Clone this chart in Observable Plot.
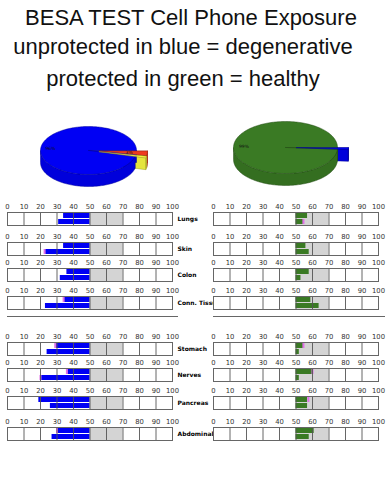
<!DOCTYPE html>
<html><head><meta charset="utf-8">
<script src="https://cdn.jsdelivr.net/npm/d3@7"></script>
<script src="https://cdn.jsdelivr.net/npm/@observablehq/plot@0.6"></script>
<style>
body{margin:0;background:#fff;}
#root{position:relative;width:386px;height:500px;overflow:hidden;font-family:"Liberation Sans",Arial,sans-serif;background:#fff;}
.title{position:absolute;width:386px;text-align:center;font-size:22px;line-height:22px;color:#111;white-space:nowrap;}
.abs{position:absolute;}
.abs svg{overflow:visible;display:block;}
.sep{position:absolute;height:0;border-top:1px solid #666;}
</style></head><body><div id="root"></div>
<script>
// ---------- data ----------
const titleLines = ["BESA TEST Cell Phone Exposure", "unprotected in blue = degenerative", "protected in green = healthy"];
const organs = ["Lungs", "Skin", "Colon", "Conn. Tissue", "Stomach", "Nerves", "Pancreas", "Abdominal"];
const unprotectedUpper = [34, 34, 36, 34, 29, 36, 19, 30];
const unprotectedLower = [31, 22.5, 32, 23, 24, 20, 26, 27];
const protectedUpper = [57, 56, 58, 59, 54.5, 60, 57, 61];
const protectedLower = [54.5, 58, 53, 64, 52, 52, 57, 58];
const unprotectedUpperMark = [null, null, null, 34, 29, 36, null, 30];
const unprotectedLowerMark = [null, 22.5, null, null, null, 20, null, null];
const protectedUpperMark = [null, null, null, null, 54.5, 60, 57.5, null];
const protectedLowerMark = [54.5, null, null, null, null, null, null, null];
const axisTicks = [0, 10, 20, 30, 40, 50, 60, 70, 80, 90, 100];
const referenceZone = [50, 70];
const barBase = 50;
const pieUnprotectedValues = [3, 1, 96];
const pieProtectedValues = [1, 99];

// ---------- styles / layout ----------
const BLUE = "#0000f4", GREEN = "#3a7a24";
const pieUnprotectedColors = ["#ee3a1e", "#ffff44", BLUE];
const pieProtectedColors = [BLUE, GREEN];
const rowBoxTops = [212, 242, 268, 296, 342, 368, 396, 427];
const root = document.getElementById("root");
function place(el, left, top) {
  const d = document.createElement("div");
  d.className = "abs"; d.style.left = left + "px"; d.style.top = top + "px";
  d.appendChild(el); root.appendChild(d);
}

titleLines.forEach((t, i) => {
  const d = document.createElement("div");
  d.className = "title"; d.textContent = t;
  d.style.top = [6.5, 36, 67.5][i] + "px";
  d.style.left = [-2, -10, -10][i] + "px";
  root.appendChild(d);
});

// ---------- pies ----------
function pieChart({values, colors, exploded, unit, depth, explode, width, height}) {
  const total = d3.sum(values);
  let acc = 0;
  const slices = values.map((v, i) => {
    const a0 = acc / total * 2 * Math.PI; acc += v;
    const a1 = acc / total * 2 * Math.PI; const mid = (a0 + a1) / 2;
    const e = exploded[i] ? explode : 0;
    return {i, v, a0, a1, mid, ox: e * Math.cos(mid), oy: e * 0.5 * Math.sin(mid), color: colors[i], exploded: exploded[i]};
  });
  const pt = (s, a, r, dz = 0) => ({x: s.ox + r * Math.cos(a), y: s.oy + 0.5 * r * Math.sin(a) + dz});
  const arc = (s, a0, a1, dz = 0) => {
    const n = Math.max(2, Math.ceil((a1 - a0) / (Math.PI / 120)));
    return d3.range(n + 1).map(k => pt(s, a0 + (a1 - a0) * k / n, 1, dz));
  };
  const poly = (points, fill, stroke) => Plot.line(points, {x: "x", y: "y", fill, stroke, strokeWidth: 0.5, curve: "linear-closed"});
  const wallMarks = s => {
    const wc = d3.color(s.color).darker(0.3).formatHex();
    const sc = d3.color(s.color).darker(1.3).formatHex();
    const m = [];
    for (const a of [s.a0, s.a1]) m.push(poly([pt(s, a, 0), pt(s, a, 1), pt(s, a, 1, depth), pt(s, a, 0, depth)], wc, sc));
    const f0 = Math.max(s.a0, 0), f1 = Math.min(s.a1, Math.PI);
    if (f1 > f0) m.push(poly([...arc(s, f0, f1), ...arc(s, f0, f1, depth).reverse()], wc, sc));
    return m;
  };
  const topMark = s => poly([pt(s, 0, 0), ...arc(s, s.a0, s.a1)], s.color, d3.color(s.color).darker(1.3).formatHex());
  const main = slices.filter(s => !s.exploded), out = slices.filter(s => s.exploded);
  const labeled = slices.filter(s => s.v >= 3).map(s => ({...pt(s, s.mid, s.exploded ? 0.62 : 0.8), text: s.v + "%"}));
  return Plot.plot({
    width, height, margin: 0,
    x: {domain: [-width / 2 / unit, width / 2 / unit], axis: null},
    y: {domain: [-height / 2 / unit, height / 2 / unit], range: [0, height], axis: null},
    style: {background: "transparent", overflow: "visible"},
    marks: [
      ...out.flatMap(wallMarks), ...main.flatMap(wallMarks),
      ...main.map(topMark), ...out.map(topMark),
      Plot.text(labeled, {x: "x", y: "y", text: "text", fontSize: 4.5, fill: "#111", fontFamily: "DejaVu Sans"})
    ]
  });
}
place(pieChart({values: pieUnprotectedValues, colors: pieUnprotectedColors, exploded: [true, true, false],
  unit: 48, depth: 0.25, explode: 0.23, width: 140, height: 80}), 88 - 70, 150 - 40);
place(pieChart({values: pieProtectedValues, colors: pieProtectedColors, exploded: [true, false],
  unit: 52, depth: 0.23, explode: 0.21, width: 140, height: 80}), 284.5 - 70, 147 - 40);

// ---------- bar rows ----------
function rowChart(i, side) {
  const left = side === "left";
  const up = left ? unprotectedUpper : protectedUpper, lo = left ? unprotectedLower : protectedLower;
  const um = left ? unprotectedUpperMark : protectedUpperMark, lm = left ? unprotectedLowerMark : protectedLowerMark;
  const bars = [{bar: "upper", v: up[i]}, {bar: "lower", v: lo[i]}];
  const marks = [{bar: "upper", v: um[i]}, {bar: "lower", v: lm[i]}].filter(d => d.v != null);
  return Plot.plot({
    width: left ? 215 : 191, height: 27,
    marginTop: 13, marginBottom: 1, marginLeft: left ? 7 : 18, marginRight: left ? 43 : 8,
    x: {domain: [0, 100], axis: "top", ticks: axisTicks, tickSize: 0, tickPadding: 4, label: null},
    y: {domain: ["upper", "lower"], axis: null, paddingInner: 0.18, paddingOuter: 0.1},
    style: {fontFamily: "DejaVu Sans, Verdana, sans-serif", fontSize: "6.8px", color: "#333", background: "transparent", overflow: "visible"},
    marks: [
      Plot.frame({fill: "white"}),
      Plot.rect([referenceZone], {x1: d => d[0], x2: d => d[1], fill: "#d4d4d4"}),
      Plot.barX(bars, {x1: d => left ? d.v : barBase, x2: d => left ? barBase : d.v, y: "bar", fill: left ? BLUE : GREEN}),
      Plot.tickX(marks, {x: "v", y: "bar", stroke: "#e070e8", strokeWidth: 2}),
      Plot.ruleX(axisTicks, {stroke: "#555", strokeWidth: 0.9}),
      Plot.frame({stroke: "#666", strokeWidth: 1}),
      ...(left ? [Plot.text([organs[i]], {frameAnchor: "right", dx: 5, textAnchor: "start", fontWeight: "bold", fontSize: 6, fill: "#000"})] : [])
    ]
  });
}
organs.forEach((o, i) => place(rowChart(i, "left"), 0, rowBoxTops[i] - 13));
organs.forEach((o, i) => place(rowChart(i, "right"), 195, rowBoxTops[i] - 13));

// separators between the two organ groups
[[7, 171], [213, 172]].forEach(([l, w]) => {
  const d = document.createElement("div"); d.className = "sep";
  d.style.left = l + "px"; d.style.width = w + "px"; d.style.top = "316px";
  root.appendChild(d);
});
</script></body></html>
